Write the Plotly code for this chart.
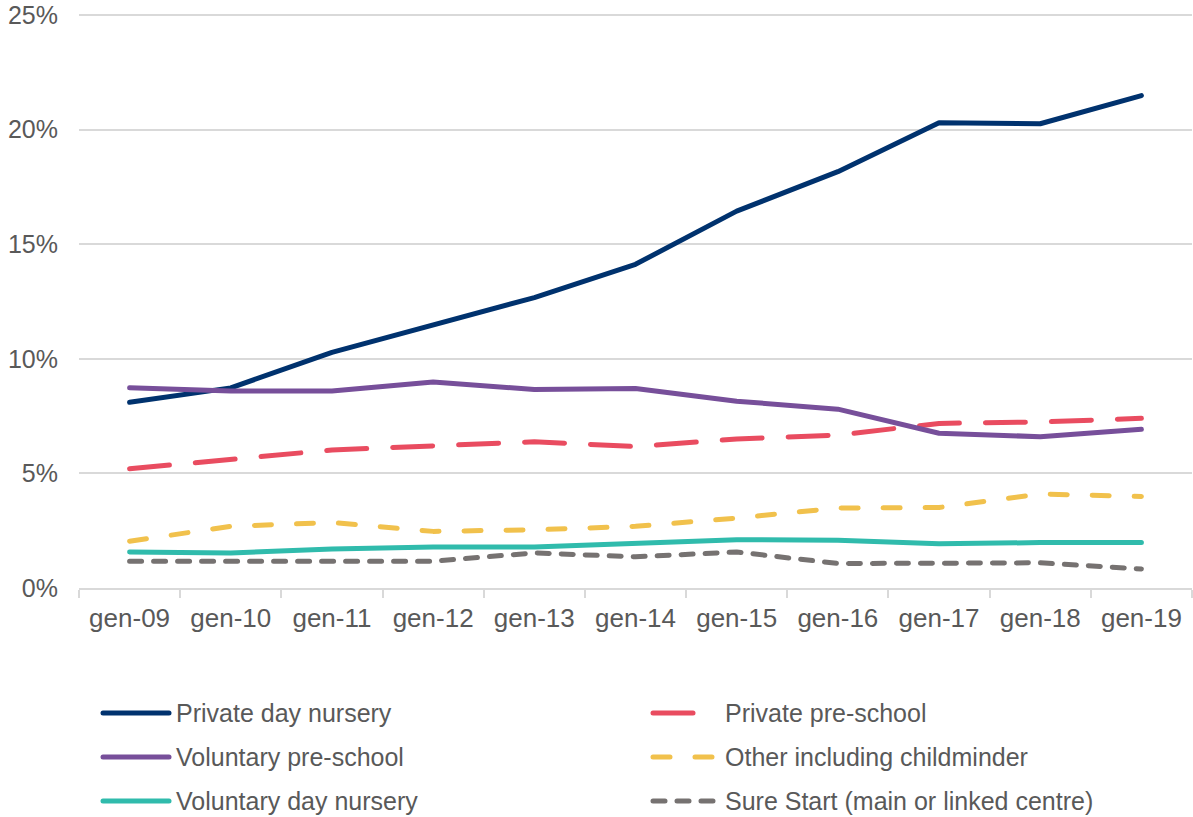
import plotly.graph_objects as go

# Share of children by provider type, January each year
months = ["gen-09", "gen-10", "gen-11", "gen-12", "gen-13", "gen-14",
          "gen-15", "gen-16", "gen-17", "gen-18", "gen-19"]

private_day_nursery = [8.10, 8.73, 10.28, 11.49, 12.67, 14.12, 16.44, 18.16, 20.29, 20.25, 21.48]
private_pre_school = [5.20, 5.63, 6.02, 6.20, 6.38, 6.17, 6.50, 6.67, 7.18, 7.24, 7.40]
voluntary_pre_school = [8.73, 8.59, 8.59, 8.99, 8.66, 8.70, 8.15, 7.80, 6.75, 6.60, 6.92]
other_childminder = [2.04, 2.69, 2.86, 2.47, 2.54, 2.69, 3.05, 3.49, 3.51, 4.10, 3.99]
voluntary_day_nursery = [1.57, 1.53, 1.70, 1.79, 1.79, 1.93, 2.11, 2.08, 1.93, 1.98, 1.98]
sure_start = [1.17, 1.17, 1.17, 1.17, 1.53, 1.36, 1.57, 1.07, 1.08, 1.10, 0.83]

y_ticks = [0, 5, 10, 15, 20, 25]
y_tick_labels = ["0%", "5%", "10%", "15%", "20%", "25%"]

# name, values, colour, dash pattern (dash lengths allow for round caps)
series = [
    ("Private day nursery", private_day_nursery, "#00326E", "solid"),
    ("Private pre-school", private_pre_school, "#E94C60", "40px,26px"),
    ("Voluntary pre-school", voluntary_pre_school, "#774F9A", "solid"),
    ("Other including childminder", other_childminder, "#F1C14C", "17px,25px"),
    ("Voluntary day nursery", voluntary_day_nursery, "#30BBAC", "solid"),
    ("Sure Start (main or linked centre)", sure_start, "#767271", "12px,12px"),
]

W, H = 1193, 817
M_L, M_R, M_T, M_B = 79, 1, 8, 229
Y_MAX = 25.3  # a little headroom so the 25% grid line sits inside the plot area
TEXT = "#595959"
GRID = "#D9D9D9"
FONT = "Liberation Sans, Arial, sans-serif"

fig = go.Figure()
for name, vals, color, dash in series:
    fig.add_trace(go.Scatter(
        x=months, y=vals, name=name, mode="lines",
        line=dict(color=color, width=5, dash=dash),
        showlegend=False,
    ))


def px_to_paper(px, py):
    pw = W - M_L - M_R
    ph = H - M_T - M_B
    return (px - M_L) / pw, (H - M_B - py) / ph


# Two-column legend below the plot
legend_cols = [(103, 169, 174), (653, 716, 723)]
legend_rows = [713, 757, 801]
shapes = []
annotations = []
order = [0, 2, 4, 1, 3, 5]
for k, idx in enumerate(order):
    name, _, color, dash = series[idx]
    x0, x1, xt = legend_cols[k // 3]
    yy = legend_rows[k % 3]
    p0 = px_to_paper(x0, yy)
    p1 = px_to_paper(x1, yy)
    pt = px_to_paper(xt, yy)
    shapes.append(dict(type="line", xref="paper", yref="paper",
                       x0=p0[0], x1=p1[0], y0=p0[1], y1=p1[1],
                       line=dict(color=color, width=5, dash=dash)))
    annotations.append(dict(xref="paper", yref="paper", x=pt[0], y=pt[1],
                            xanchor="left", yanchor="middle", showarrow=False,
                            text=name, font=dict(size=25, color=TEXT, family=FONT)))

fig.update_layout(
    width=W, height=H,
    margin=dict(l=M_L, r=M_R, t=M_T, b=M_B, autoexpand=False),
    paper_bgcolor="white", plot_bgcolor="white",
    font=dict(family=FONT, size=26, color=TEXT),
    showlegend=False,
    shapes=shapes,
    annotations=annotations,
    xaxis=dict(
        type="category", range=[-0.5, 10.5],
        showline=True, linecolor=GRID, linewidth=2,
        ticks="outside", tickson="boundaries", ticklen=8,
        tickcolor=GRID, tickwidth=2,
        showgrid=False, zeroline=False,
        ticklabelstandoff=6,
        tickfont=dict(size=26, color=TEXT, family=FONT),
        automargin=False,
    ),
    yaxis=dict(
        range=[0, Y_MAX], tickmode="array",
        tickvals=y_ticks, ticktext=y_tick_labels,
        showgrid=True, gridcolor=GRID, gridwidth=2,
        zeroline=False, showline=False, ticks="",
        ticklabelstandoff=20, ticklabeloverflow="allow",
        tickfont=dict(size=25, color=TEXT, family=FONT),
        automargin=False,
    ),
)

round_caps = """
var gd = document.getElementById('{plot_id}');
function roundCaps() {
  gd.querySelectorAll('.scatterlayer path.js-line, .shapelayer path').forEach(function (p) {
    p.style.strokeLinecap = 'round';
    p.style.strokeLinejoin = 'round';
  });
}
roundCaps();
gd.on('plotly_afterplot', roundCaps);
"""

fig.write_html("out.html", post_script=round_caps)
